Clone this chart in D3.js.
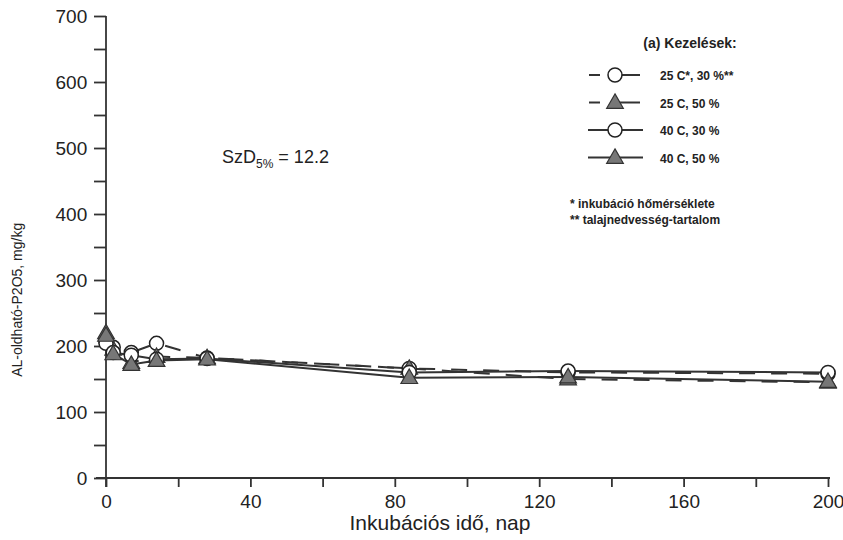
<!DOCTYPE html>
<html>
<head>
<meta charset="utf-8">
<script src="https://cdn.jsdelivr.net/npm/d3@7"></script>
<style>
  body { margin: 0; background: #fff; }
  text { font-family: "Liberation Sans", Arial, sans-serif; fill: #222; }
</style>
</head>
<body>
<script>
var WIDTH = 843,
    HEIGHT = 540;

// incubation days and P2O5 values (mg/kg)
var days = [0, 2, 7, 14, 28, 84, 128, 200];
var t25w30 = [207, 198, 190, 204, 182, 166, 160, 158];
var t25w50 = [220, 195, 175, 184, 182, 166, 150, 145];
var t40w30 = [204, 190, 186, 180, 181, 160, 162, 160];
var t40w50 = [216, 188, 172, 178, 180, 152, 153, 146];

var seriesNames = ["25 C*, 30 %**", "25 C, 50 %", "40 C, 30 %", "40 C, 50 %"];
var xTicks = [0, 40, 80, 120, 160, 200];
var yTicks = [0, 100, 200, 300, 400, 500, 600, 700];

var series = [
  { name: seriesNames[0], values: t25w30, marker: "circle", dashed: true },
  { name: seriesNames[1], values: t25w50, marker: "triangle", dashed: true },
  { name: seriesNames[2], values: t40w30, marker: "circle", dashed: false },
  { name: seriesNames[3], values: t40w50, marker: "triangle", dashed: false }
];

var x = d3.scaleLinear().domain([0, 200]).range([106, 828]),
    y = d3.scaleLinear().domain([0, 700]).range([478, 16]);

var svg = d3.select("body").append("svg")
      .attr("width", WIDTH)
      .attr("height", HEIGHT);

// axes
var xAxis = svg.append("g")
  .attr("transform", "translate(0," + y(0) + ")")
  .call(d3.axisBottom(x).tickValues(d3.range(0, 201, 20)).tickSize(9)
    .tickFormat(function(d) { return xTicks.indexOf(d) >= 0 ? d : ""; }));
xAxis.select(".domain").attr("d", "M" + (x(0) - 10) + ",0H" + (x(200) + 2));
xAxis.selectAll("text").attr("font-size", 19).attr("dy", "0.95em");

var yAxis = svg.append("g")
  .attr("transform", "translate(" + x(0) + ",0)")
  .call(d3.axisLeft(y).tickValues(d3.range(0, 701, 50)).tickSize(12)
    .tickFormat(function(d) { return yTicks.indexOf(d) >= 0 ? d : ""; }));
yAxis.select(".domain").attr("d", "M0," + (y(0) + 9) + "V" + y(700));
yAxis.selectAll("text").attr("font-size", 19).attr("dx", "-0.2em");
svg.selectAll(".domain, .tick line").attr("stroke", "#333").attr("stroke-width", 1.8);

svg.append("text")
  .attr("transform", "translate(22," + y(270) + ") rotate(-90)")
  .attr("text-anchor", "middle")
  .attr("font-size", 14)
  .text("AL-oldható-P2O5, mg/kg");

svg.append("text")
  .attr("x", 440).attr("y", 530)
  .attr("text-anchor", "middle")
  .attr("font-size", 21)
  .text("Inkubációs idő, nap");

// SzD annotation
var szd = svg.append("text").attr("x", 222).attr("y", 163).attr("font-size", 18);
szd.append("tspan").text("SzD");
szd.append("tspan").attr("font-size", 12).attr("dy", 5).text("5%");
szd.append("tspan").attr("dy", -5).text(" = 12.2");

var line = d3.line()
  .x(function(d, i) { return x(days[i]); })
  .y(function(d) { return y(d); });

var tri = d3.symbol().type(d3.symbolTriangle).size(120);

function drawMarker(g, s, cx, cy) {
  if (s.marker === "circle") {
    g.append("circle").attr("cx", cx).attr("cy", cy).attr("r", 7)
      .attr("fill", "#fff").attr("stroke", "#222").attr("stroke-width", 1.5);
  } else {
    g.append("path").attr("d", tri)
      .attr("transform", "translate(" + cx + "," + (cy + 1) + ")")
      .attr("fill", "#777").attr("stroke", "#333").attr("stroke-width", 1.2);
  }
}

series.forEach(function(s) {
  svg.append("path")
    .datum(s.values)
    .attr("d", line)
    .attr("fill", "none")
    .attr("stroke", "#333")
    .attr("stroke-width", 2)
    .attr("stroke-dasharray", s.dashed ? "16,16" : null);
});

series.forEach(function(s) {
  var g = svg.append("g");
  s.values.forEach(function(v, i) { drawMarker(g, s, x(days[i]), y(v)); });
});

// legend
svg.append("text")
  .attr("x", 690).attr("y", 48)
  .attr("text-anchor", "middle")
  .attr("font-size", 14).attr("font-weight", "bold")
  .text("(a) Kezelések:");

series.forEach(function(s, i) {
  var ly = 75 + i * 27.5;
  var g = svg.append("g");
  if (s.dashed) {
    g.append("line").attr("x1", 589).attr("x2", 600).attr("y1", ly).attr("y2", ly)
      .attr("stroke", "#333").attr("stroke-width", 2);
    g.append("line").attr("x1", 612).attr("x2", 640).attr("y1", ly).attr("y2", ly)
      .attr("stroke", "#333").attr("stroke-width", 2);
  } else {
    g.append("line").attr("x1", 588).attr("x2", 643).attr("y1", ly).attr("y2", ly)
      .attr("stroke", "#333").attr("stroke-width", 2);
  }
  drawMarker(g, s, 615, ly);
  g.append("text")
    .attr("x", 660).attr("y", ly + 5)
    .attr("font-size", 12).attr("font-weight", "bold")
    .text(s.name);
});

svg.append("text").attr("x", 570).attr("y", 208)
  .attr("font-size", 12).attr("font-weight", "bold")
  .text("* inkubáció hőmérséklete");
svg.append("text").attr("x", 570).attr("y", 224)
  .attr("font-size", 12).attr("font-weight", "bold")
  .text("** talajnedvesség-tartalom");
</script>
</body>
</html>
